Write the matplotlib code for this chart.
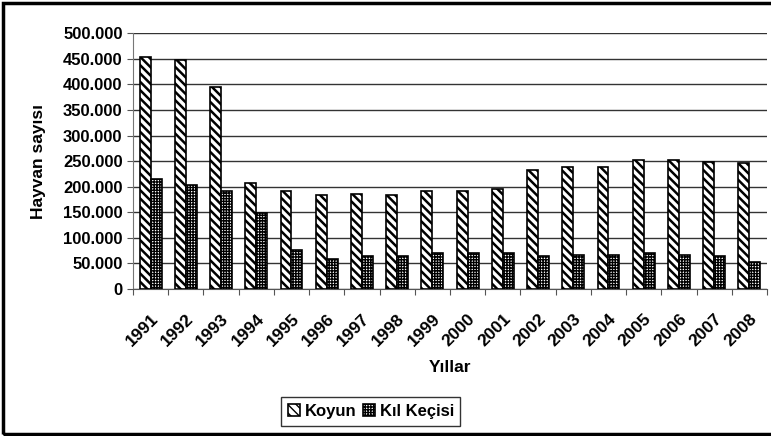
import matplotlib.pyplot as plt
from matplotlib.patches import Rectangle
from matplotlib.ticker import FuncFormatter
import numpy as np

plt.rcParams['font.family'] = ['Liberation Sans', 'DejaVu Sans']
plt.rcParams['font.weight'] = 'bold'

years = ['1991', '1992', '1993', '1994', '1995', '1996', '1997', '1998', '1999',
         '2000', '2001', '2002', '2003', '2004', '2005', '2006', '2007', '2008']

koyun = [452500, 447000, 394000, 206400, 191400, 183600, 185500, 183600, 191400,
         191400, 194700, 232400, 238900, 238900, 252000, 252000, 248700, 246700]

kil_keci = [214200, 203000, 192000, 147800, 76200, 58000, 64500, 64500, 69700,
            69700, 69700, 64500, 66400, 66400, 69700, 66400, 64500, 52100]

fig = plt.figure(figsize=(7.71, 4.36), dpi=100)
ax = fig.add_axes([0.1725, 0.337, 0.8223, 0.587])

x = np.arange(len(years))
w = 0.31
with plt.rc_context({'hatch.linewidth': 1.8}):
    ax.bar(x - w / 2, koyun, w, color='white', edgecolor='black', hatch='\\\\\\\\',
           linewidth=1.2, label='Koyun', zorder=3)
with plt.rc_context({'hatch.linewidth': 1.0}):
    ax.bar(x + w / 2, kil_keci, w, color='white', edgecolor='black', hatch='++++++',
           linewidth=1.2, label='Kıl Keçisi', zorder=3)

ax.set_xlim(-0.5, len(years) - 0.5)
ax.set_ylim(0, 500000)
ax.set_yticks(np.arange(0, 500001, 50000))
ax.yaxis.set_major_formatter(FuncFormatter(lambda v, p: f"{int(v):,}".replace(',', '.')))
ax.grid(axis='y', color='#333333', linewidth=1, zorder=0)

ax.set_xticks(np.arange(-0.5, len(years), 1))
ax.set_xticklabels([])
ax.set_xticks(x, minor=True)
ax.set_xticklabels(years, minor=True, rotation=45, ha='right', va='top',
                   rotation_mode='anchor', fontsize=12.5, fontweight='bold')
ax.tick_params(axis='x', which='minor', length=0, pad=16)
ax.tick_params(axis='x', which='major', length=4, color='#555555')
ax.tick_params(axis='y', length=4, labelsize=12, color='#555555')

for s in ['top', 'right']:
    ax.spines[s].set_visible(False)
ax.spines['left'].set_color('#777777')
ax.spines['bottom'].set_color('#555555')

ax.set_ylabel('Hayvan sayısı', fontsize=12.5, fontweight='bold', labelpad=12)
ax.set_xlabel('Yıllar', fontsize=12.5, fontweight='bold', labelpad=8)

fig.legend(loc='center', bbox_to_anchor=(0.481, 0.056), ncol=2, fontsize=12,
           frameon=True, fancybox=False, edgecolor='black', handlelength=0.7,
           handleheight=0.7, handletextpad=0.3, columnspacing=0.4, borderpad=0.4)

fig.patches.append(Rectangle((3 / 771, 2 / 436), 1.0, 431 / 436, transform=fig.transFigure,
                             fill=False, edgecolor='black', linewidth=2.5))

plt.savefig('out.png', dpi=100)
